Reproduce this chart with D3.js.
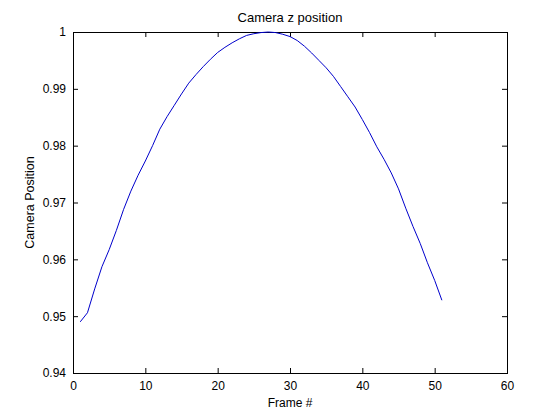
<!DOCTYPE html>
<html>
<head>
<meta charset="utf-8">
<script src="https://cdn.jsdelivr.net/npm/d3@7"></script>
<style>
	body { margin: 0; background: #fff; }
	text { font-family: "Liberation Sans", Arial, sans-serif; fill: #000; }
</style>
</head>
<body>
<div id="chart"></div>
<script>
// frame numbers and camera z values
const frames = d3.range(1, 52);
const cameraZ = [
	0.9490, 0.9506, 0.9548, 0.9587, 0.9617, 0.9651, 0.9688, 0.9720, 0.9748, 0.9773,
	0.9800, 0.9829, 0.9851, 0.9871, 0.9891, 0.9910, 0.9925, 0.9939, 0.9952, 0.9964,
	0.9973, 0.9981, 0.9988, 0.9994, 0.9997, 0.9999, 1.0000, 0.9999, 0.9996, 0.9992,
	0.9985, 0.9975, 0.9963, 0.9950, 0.9937, 0.9922, 0.9904, 0.9886, 0.9868, 0.9846,
	0.9823, 0.9798, 0.9776, 0.9752, 0.9724, 0.9690, 0.9658, 0.9628, 0.9594, 0.9563,
	0.9528
];
const xTicks = [0, 10, 20, 30, 40, 50, 60];
const yTicks = [0.94, 0.95, 0.96, 0.97, 0.98, 0.99, 1];

const width = 560;
const height = 420;
const margin = { top: 32, right: 53, bottom: 47, left: 73 };
const w = width - margin.left - margin.right;
const h = height - margin.top - margin.bottom;

const svg = d3.select("#chart")
	.append("svg")
	.attr("width", width)
	.attr("height", height);

const g = svg.append("g")
	.attr("transform", `translate(${margin.left},${margin.top})`);

const x = d3.scaleLinear().domain([0, 60]).range([0, w]);
const y = d3.scaleLinear().domain([0.94, 1]).range([h, 0]);

const fmtY = d => d === 1 ? "1" : d3.format(".2f")(d);

// axes with inward ticks, mirrored on top/right like matlab's box
function styleAxis(sel) {
	sel.select(".domain").remove();
	sel.selectAll("line").attr("stroke", "#000");
	sel.selectAll("text").attr("font-size", 12);
}

g.append("g")
	.attr("transform", `translate(0,${h})`)
	.call(d3.axisBottom(x).tickValues(xTicks).tickSizeInner(-5).tickSizeOuter(0).tickPadding(8))
	.call(styleAxis);

g.append("g")
	.call(d3.axisTop(x).tickValues(xTicks).tickSizeInner(-5).tickSizeOuter(0).tickFormat(""))
	.call(styleAxis);

g.append("g")
	.call(d3.axisLeft(y).tickValues(yTicks).tickSizeInner(-5).tickSizeOuter(0).tickPadding(7).tickFormat(fmtY))
	.call(styleAxis);

g.append("g")
	.attr("transform", `translate(${w},0)`)
	.call(d3.axisRight(y).tickValues(yTicks).tickSizeInner(-5).tickSizeOuter(0).tickFormat(""))
	.call(styleAxis);

g.append("rect")
	.attr("width", w)
	.attr("height", h)
	.attr("fill", "none")
	.attr("stroke", "#000")
	.attr("shape-rendering", "crispEdges");

const line = d3.line()
	.x((d, i) => x(frames[i]))
	.y(d => y(d));

g.append("path")
	.datum(cameraZ)
	.attr("fill", "none")
	.attr("stroke", "#0000cc")
	.attr("stroke-width", 1)
	.attr("d", line);

// labels
svg.append("text")
	.attr("x", margin.left + w / 2)
	.attr("y", 22)
	.attr("text-anchor", "middle")
	.attr("font-size", 13)
	.text("Camera z position");

svg.append("text")
	.attr("x", margin.left + w / 2)
	.attr("y", 407)
	.attr("text-anchor", "middle")
	.attr("font-size", 12)
	.text("Frame #");

svg.append("text")
	.attr("transform", `translate(34,${margin.top + h / 2}) rotate(-90)`)
	.attr("text-anchor", "middle")
	.attr("font-size", 12.5)
	.text("Camera Position");
</script>
</body>
</html>
